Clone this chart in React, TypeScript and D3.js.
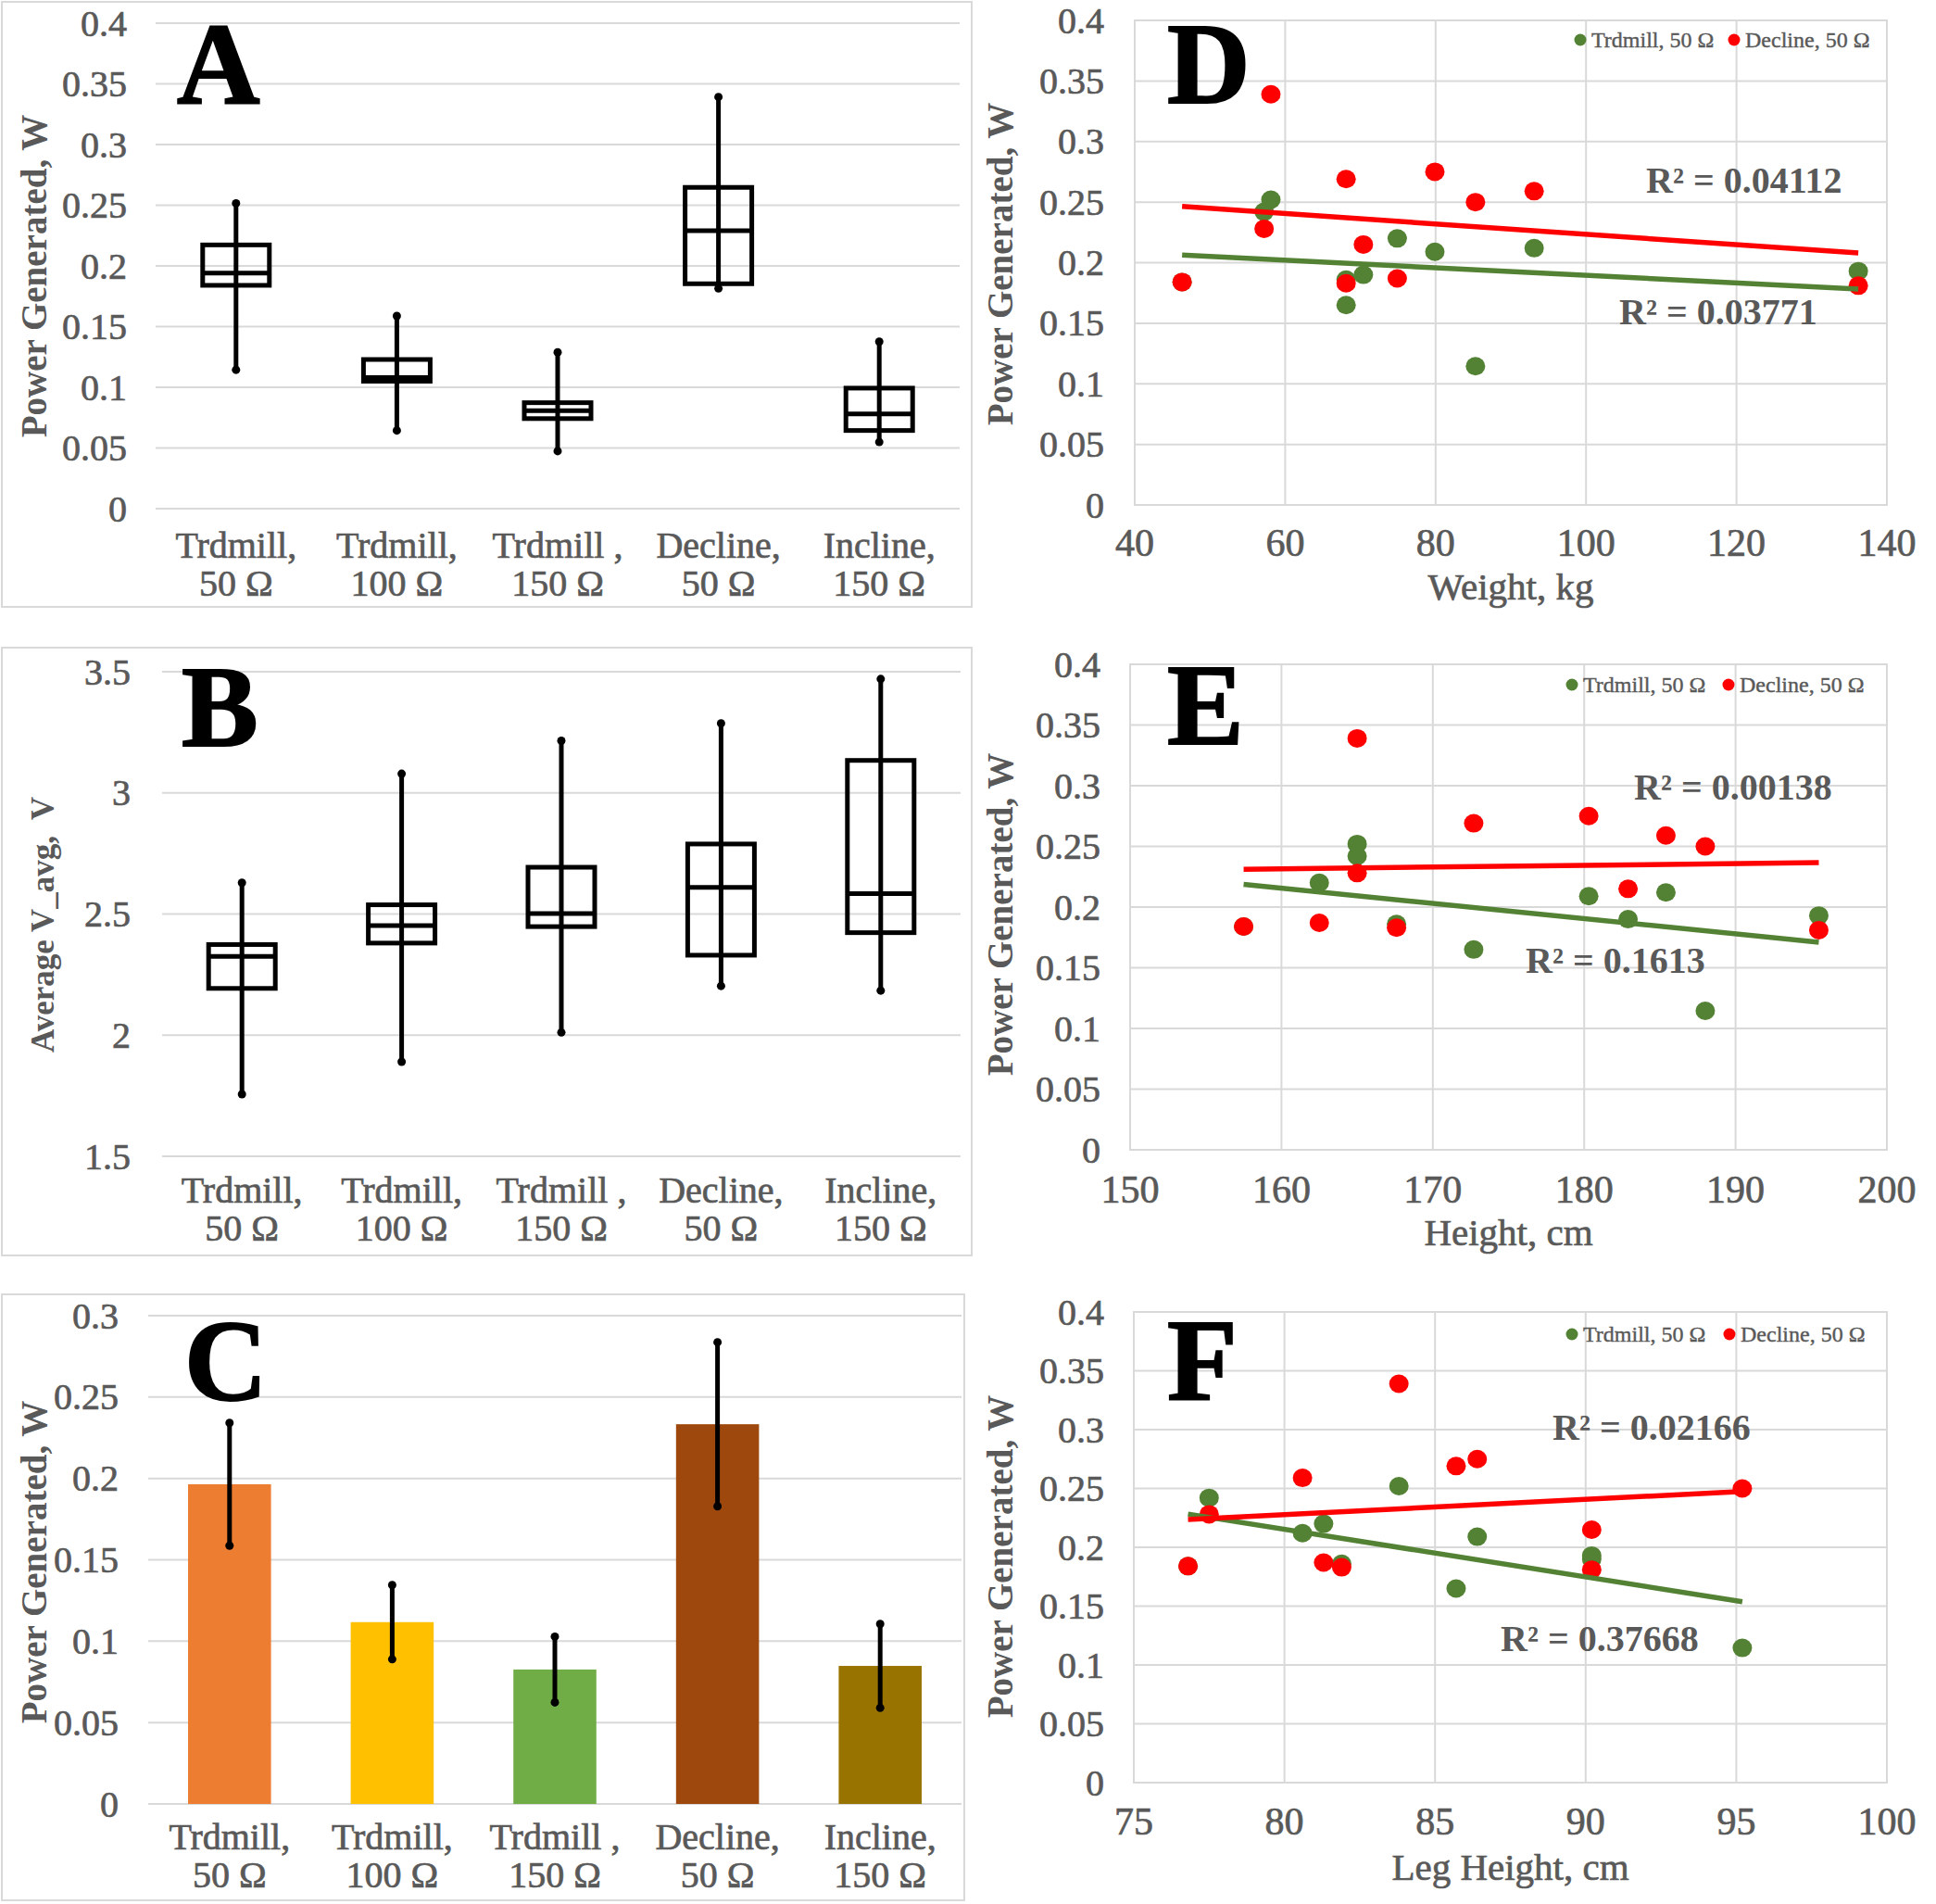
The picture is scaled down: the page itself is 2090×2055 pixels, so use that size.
import React from "react";
import * as d3 from "d3";

const FONT = "'Liberation Serif', 'Times New Roman', serif";
const GRAY = "#595959";
const GRID = "#d9d9d9";
const HEAVY = 0.7;

// ---------- categories ----------
const categories = ["Trdmill 50", "Trdmill 100", "Trdmill 150", "Decline 50", "Incline 150"];
const categoryLine1 = ["Trdmill,", "Trdmill,", "Trdmill ,", "Decline,", "Incline,"];
const categoryLine2 = ["50 Ω", "100 Ω", "150 Ω", "50 Ω", "150 Ω"];

// ---------- panel A: power box plot ----------
const powerMin = [0.1144, 0.0644, 0.0474, 0.1814, 0.0549];
const powerQ1 = [0.184, 0.105, 0.0742, 0.1853, 0.0644];
const powerMedian = [0.194, 0.108, 0.0807, 0.229, 0.0781];
const powerQ3 = [0.2173, 0.1229, 0.0873, 0.2647, 0.0993];
const powerMax = [0.2516, 0.1588, 0.1288, 0.3392, 0.1376];
const powerTicks = [0, 0.05, 0.1, 0.15, 0.2, 0.25, 0.3, 0.35, 0.4];
const powerTickLabels = ["0", "0.05", "0.1", "0.15", "0.2", "0.25", "0.3", "0.35", "0.4"];

// ---------- panel B: voltage box plot ----------
const voltMin = [1.756, 1.89, 2.011, 2.203, 2.184];
const voltQ1 = [2.193, 2.38, 2.448, 2.33, 2.423];
const voltMedian = [2.325, 2.452, 2.502, 2.61, 2.584];
const voltQ3 = [2.374, 2.538, 2.693, 2.789, 3.134];
const voltMax = [2.629, 3.079, 3.215, 3.287, 3.47];
const voltTicks = [1.5, 2, 2.5, 3, 3.5];
const voltTickLabels = ["1.5", "2", "2.5", "3", "3.5"];

// ---------- panel C: mean power bars ----------
const meanPower = [0.1964, 0.1117, 0.0826, 0.2333, 0.0848];
const powerError = [0.0377, 0.0228, 0.0202, 0.0504, 0.0258];
const barColors = ["#ED7D31", "#FFC000", "#70AD47", "#9E480E", "#997300"];
const barTicks = [0, 0.05, 0.1, 0.15, 0.2, 0.25, 0.3];
const barTickLabels = ["0", "0.05", "0.1", "0.15", "0.2", "0.25", "0.3"];

// ---------- panels D-F: per-subject data ----------
const weightKg = [46.3, 58.1, 57.2, 68.1, 68.1, 70.4, 74.9, 79.9, 85.3, 93.1, 136.2];
const heightCm = [157.5, 165.0, 165.0, 172.7, 167.6, 182.9, 162.5, 180.3, 188.0, 185.4, 195.5];
const legHeightCm = [76.8, 83.8, 77.5, 85.7, 81.9, 90.2, 81.3, 86.4, 95.2, 80.6, 90.2];
const trdmillPower = [0.184, 0.252, 0.242, 0.165, 0.186, 0.19, 0.22, 0.209, 0.1145, 0.212, 0.193];
const declinePower = [0.184, 0.339, 0.228, 0.269, 0.183, 0.215, 0.187, 0.275, 0.25, 0.259, 0.181];

const weightTicks = [40, 60, 80, 100, 120, 140];
const heightTicks = [150, 160, 170, 180, 190, 200];
const legTicks = [75, 80, 85, 90, 95, 100];

const seriesNames = ["Trdmill, 50 Ω", "Decline, 50 Ω"];
const seriesColors = ["#548235", "#FF0000"];
const r2Weight = ["R² = 0.03771", "R² = 0.04112"];
const r2Height = ["R² = 0.1613", "R² = 0.00138"];
const r2Leg = ["R² = 0.37668", "R² = 0.02166"];

function linreg(xs: number[], ys: number[]) {
  const mx = d3.mean(xs) as number;
  const my = d3.mean(ys) as number;
  let sxy = 0, sxx = 0;
  xs.forEach((x, i) => { sxy += (x - mx) * (ys[i] - my); sxx += (x - mx) * (x - mx); });
  const b = sxy / sxx;
  const a = my - b * mx;
  return (x: number) => a + b * x;
}

function Letter({ ch, x, y }: any) {
  return (
    <text x={x} y={y} fontFamily={FONT} fontWeight="bold" fontSize={124} fill="#000"
      stroke="#000" strokeWidth={2}>{ch}</text>
  );
}

function YTitle({ text, x, y, size }: any) {
  return (
    <text transform={`translate(${x},${y}) rotate(-90)`} textAnchor="middle" dominantBaseline="central"
      fontFamily={FONT} fontWeight="bold" fontSize={size} fill={GRAY} style={{ whiteSpace: "pre" }}>{text}</text>
  );
}

function CategoryAxis({ x, y1, y2 }: any) {
  return (
    <g fontFamily={FONT} fontSize={40} fill={GRAY} stroke={GRAY} strokeWidth={HEAVY} textAnchor="middle">
      {categories.map((c, i) => (
        <g key={c}>
          <text x={(x(c) as number) + x.bandwidth() / 2} y={y1} dominantBaseline="central">{categoryLine1[i]}</text>
          <text x={(x(c) as number) + x.bandwidth() / 2} y={y2} dominantBaseline="central">{categoryLine2[i]}</text>
        </g>
      ))}
    </g>
  );
}

function YGrid({ y, ticks, labels, x0, x1, labelX }: any) {
  return (
    <g>
      {ticks.map((t: number, i: number) => (
        <g key={t}>
          <line x1={x0} x2={x1} y1={y(t)} y2={y(t)} stroke={GRID} strokeWidth={2} />
          <text x={labelX} y={y(t)} textAnchor="end" dominantBaseline="central" fontFamily={FONT}
            fontSize={40} fill={GRAY} stroke={GRAY} strokeWidth={HEAVY}>{labels[i]}</text>
        </g>
      ))}
    </g>
  );
}

function BoxPanel(p: any) {
  const x = d3.scaleBand().domain(categories).range([p.x0, p.x1]);
  const y = d3.scaleLinear().domain(p.domain).range([p.yBot, p.yTop]);
  const bw = 72;
  return (
    <g>
      <rect x={p.frame[0]} y={p.frame[1]} width={p.frame[2]} height={p.frame[3]} fill="#fff" stroke={GRID} strokeWidth={2} />
      <YGrid y={y} ticks={p.ticks} labels={p.tickLabels} x0={p.x0} x1={p.x1} labelX={p.labelX} />
      {categories.map((c, i) => {
        const cx = (x(c) as number) + x.bandwidth() / 2;
        return (
          <g key={c} stroke="#000" strokeWidth={5} fill="none">
            <line x1={cx} x2={cx} y1={y(p.max[i])} y2={y(p.min[i])} />
            <rect x={cx - bw / 2} y={y(p.q3[i])} width={bw} height={y(p.q1[i]) - y(p.q3[i])} />
            <line x1={cx - bw / 2} x2={cx + bw / 2} y1={y(p.med[i])} y2={y(p.med[i])} />
            <circle cx={cx} cy={y(p.max[i])} r={4.5} fill="#000" stroke="none" />
            <circle cx={cx} cy={y(p.min[i])} r={4.5} fill="#000" stroke="none" />
          </g>
        );
      })}
      <CategoryAxis x={x} y1={p.catY1} y2={p.catY2} />
      <YTitle text={p.yTitle} x={p.yTitleX} y={p.yTitleY} size={p.yTitleSize} />
      <Letter ch={p.letter} x={p.letterX} y={p.letterY} />
    </g>
  );
}

function BarPanel(p: any) {
  const x = d3.scaleBand().domain(categories).range([p.x0, p.x1]).paddingInner(0.49).paddingOuter(0.245);
  const y = d3.scaleLinear().domain([0, 0.3]).range([p.yBot, p.yTop]);
  return (
    <g>
      <rect x={p.frame[0]} y={p.frame[1]} width={p.frame[2]} height={p.frame[3]} fill="#fff" stroke={GRID} strokeWidth={2} />
      <YGrid y={y} ticks={barTicks} labels={barTickLabels} x0={p.x0} x1={p.x1} labelX={p.labelX} />
      {categories.map((c, i) => {
        const bx = x(c) as number;
        const cx = bx + x.bandwidth() / 2;
        const hi = y(meanPower[i] + powerError[i]);
        const lo = y(meanPower[i] - powerError[i]);
        return (
          <g key={c}>
            <rect x={bx} y={y(meanPower[i])} width={x.bandwidth()} height={y(0) - y(meanPower[i])} fill={barColors[i]} />
            <line x1={cx} x2={cx} y1={hi} y2={lo} stroke="#000" strokeWidth={5} />
            <circle cx={cx} cy={hi} r={4.5} fill="#000" />
            <circle cx={cx} cy={lo} r={4.5} fill="#000" />
          </g>
        );
      })}
      <CategoryAxis x={d3.scaleBand().domain(categories).range([p.x0, p.x1])} y1={p.catY1} y2={p.catY2} />
      <YTitle text="Power Generated, W" x={p.yTitleX} y={p.yTitleY} size={39} />
      <Letter ch="C" x={p.letterX} y={p.letterY} />
    </g>
  );
}

function ScatterPanel(p: any) {
  const x = d3.scaleLinear().domain([p.xTicks[0], p.xTicks[p.xTicks.length - 1]]).range([p.x0, p.x1]);
  const y = d3.scaleLinear().domain([0, 0.4]).range([p.yBot, p.yTop]);
  const series = [trdmillPower, declinePower];
  const xExt = d3.extent(p.xs as number[]) as [number, number];
  return (
    <g>
      {p.xTicks.map((t: number) => (
        <g key={t}>
          <line x1={x(t)} x2={x(t)} y1={p.yTop} y2={p.yBot} stroke={GRID} strokeWidth={2} />
          <text x={x(t)} y={p.xLabelY} textAnchor="middle" dominantBaseline="central" fontFamily={FONT}
            fontSize={42} fill={GRAY} stroke={GRAY} strokeWidth={HEAVY}>{t}</text>
        </g>
      ))}
      <YGrid y={y} ticks={powerTicks} labels={powerTickLabels} x0={p.x0} x1={p.x1} labelX={p.labelX} />
      <rect x={p.x0} y={p.yTop} width={p.x1 - p.x0} height={p.yBot - p.yTop} fill="none" stroke={GRID} strokeWidth={2} />
      {series.map((s, si) => (
        <g key={si} fill={seriesColors[si]}>
          {s.map((v, i) => (
            <ellipse key={i} cx={x(p.xs[i])} cy={y(v)} rx={10.5} ry={10} />
          ))}
        </g>
      ))}
      {series.map((s, si) => {
        const f = linreg(p.xs, s);
        return (
          <line key={si} x1={x(xExt[0])} x2={x(xExt[1])} y1={y(f(xExt[0]))} y2={y(f(xExt[1]))}
            stroke={seriesColors[si]} strokeWidth={5.5} />
        );
      })}
      {p.r2.map((t: string, si: number) => (
        <text key={si} x={p.r2Pos[si][0]} y={p.r2Pos[si][1]} dominantBaseline="central" fontFamily={FONT}
          fontWeight="bold" fontSize={40} fill={GRAY}>{t}</text>
      ))}
      {seriesNames.map((n, si) => (
        <g key={n}>
          <circle cx={p.legendX[si]} cy={p.legendY} r={6.5} fill={seriesColors[si]} />
          <text x={p.legendX[si] + 12} y={p.legendY} dominantBaseline="central" fontFamily={FONT}
            fontSize={24} fill={GRAY} stroke={GRAY} strokeWidth={0.4}>{n}</text>
        </g>
      ))}
      <text x={(p.x0 + p.x1) / 2} y={p.xTitleY} textAnchor="middle" dominantBaseline="central" fontFamily={FONT}
        fontSize={41} fill={GRAY} stroke={GRAY} strokeWidth={HEAVY}>{p.xTitle}</text>
      <YTitle text="Power Generated, W" x={p.yTitleX} y={p.yTitleY} size={39} />
      <Letter ch={p.letter} x={p.letterX} y={p.letterY} />
    </g>
  );
}

export default function App() {
  return (
    <svg width={2090} height={2055} style={{ position: "absolute", left: 0, top: 0, background: "#fff" }}>
      <rect x={0} y={0} width={2090} height={2055} fill="#fff" />
      <BoxPanel frame={[2, 2, 1047, 653]} x0={168} x1={1036} yTop={25} yBot={549} domain={[0, 0.4]}
        ticks={powerTicks} tickLabels={powerTickLabels} labelX={137}
        min={powerMin} q1={powerQ1} med={powerMedian} q3={powerQ3} max={powerMax}
        catY1={588} catY2={629} yTitle="Power Generated, W" yTitleX={36} yTitleY={298} yTitleSize={39}
        letter="A" letterX={191} letterY={111} />
      <BoxPanel frame={[2, 699, 1047, 656]} x0={175} x1={1037} yTop={725} yBot={1248} domain={[1.5, 3.5]}
        ticks={voltTicks} tickLabels={voltTickLabels} labelX={141}
        min={voltMin} q1={voltQ1} med={voltMedian} q3={voltQ3} max={voltMax}
        catY1={1284} catY2={1325} yTitle="Average V_avg,  V" yTitleX={46} yTitleY={998} yTitleSize={35}
        letter="B" letterX={196} letterY={805} />
      <BarPanel frame={[2, 1397, 1039, 654]} x0={160} x1={1038} yTop={1420} yBot={1947} labelX={128}
        catY1={1982} catY2={2023} yTitleX={36} yTitleY={1686} letterX={199} letterY={1511} />
      <ScatterPanel x0={1225} x1={2037} yTop={22} yBot={545} xTicks={weightTicks} xs={weightKg}
        xLabelY={586} xTitle="Weight, kg" xTitleY={633} labelX={1192} yTitleX={1079} yTitleY={285}
        letter="D" letterX={1260} letterY={111} legendY={43} legendX={[1706, 1872]}
        r2={r2Weight} r2Pos={[[1748, 336], [1777, 194]]} />
      <ScatterPanel x0={1220} x1={2037} yTop={717} yBot={1241} xTicks={heightTicks} xs={heightCm}
        xLabelY={1284} xTitle="Height, cm" xTitleY={1330} labelX={1188} yTitleX={1079} yTitleY={987}
        letter="E" letterX={1260} letterY={803} legendY={739} legendX={[1697, 1866]}
        r2={r2Height} r2Pos={[[1647, 1036], [1764, 849]]} />
      <ScatterPanel x0={1224} x1={2037} yTop={1416} yBot={1924} xTicks={legTicks} xs={legHeightCm}
        xLabelY={1966} xTitle="Leg Height, cm" xTitleY={2015} labelX={1192} yTitleX={1079} yTitleY={1680}
        letter="F" letterX={1260} letterY={1510} legendY={1440} legendX={[1697, 1867]}
        r2={r2Leg} r2Pos={[[1620, 1768], [1676, 1540]]} />
    </svg>
  );
}
